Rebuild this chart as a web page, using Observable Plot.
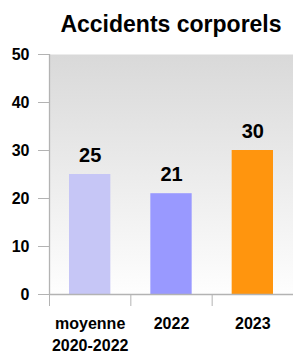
<!DOCTYPE html>
<html>
<head>
<meta charset="utf-8">
<script src="https://cdn.jsdelivr.net/npm/d3@7"></script>
<script src="https://cdn.jsdelivr.net/npm/@observablehq/plot@0.6"></script>
<style>
  body { margin: 0; background: #fff; }
  #title { box-sizing: border-box; height: 40px; padding-top: 13px; padding-left: 49px; width: 293px;
    text-align: center; font: bold 23px/22px "Liberation Sans", Arial, sans-serif; color: #000; white-space: nowrap; }
</style>
</head>
<body>
<svg width="0" height="0" style="position:absolute">
  <defs>
    <linearGradient id="bg" x1="0" y1="0" x2="0" y2="1">
      <stop offset="0" stop-color="#d9d9d9"/>
      <stop offset="1" stop-color="#fefefe"/>
    </linearGradient>
  </defs>
</svg>
<div id="title">Accidents corporels</div>
<div id="chart"></div>
<script>
const categories = ["moyenne\n2020-2022", "2022", "2023"];
const values = [25, 21, 30];
const colors = ["#c6c6f6", "#9999ff", "#ff950e"];
const yTicks = [0, 10, 20, 30, 40, 50];

const data = categories.map((c, i) => ({i, category: c, value: values[i], color: colors[i]}));
const gray = "#b3b3b3";

const chart = Plot.plot({
  width: 293,
  height: 312,
  marginTop: 14,
  marginLeft: 49,
  marginRight: 0,
  marginBottom: 58,
  style: {fontFamily: "'Liberation Sans', Arial, sans-serif", fontSize: "16px", fontWeight: "bold", color: "#000", background: "transparent"},
  x: {domain: [0, categories.length], axis: null},
  y: {domain: [0, 50], axis: null},
  marks: [
    Plot.frame({fill: "url(#bg)", stroke: "none"}),
    Plot.rectY(data, {x1: d => d.i, x2: d => d.i + 1, y1: 0, y2: "value", fill: "color", insetLeft: 20, insetRight: 20}),
    Plot.text(data, {x: d => d.i + 0.5, y: "value", text: d => String(d.value), dy: -19, fontSize: 20, fontWeight: "bold", fill: "#000"}),
    Plot.ruleX([0], {stroke: gray, strokeWidth: 1.3}),
    Plot.ruleY([0], {stroke: gray, strokeWidth: 1.3}),
    Plot.axisY({ticks: yTicks, label: null, tickSize: 11, tickPadding: 9, stroke: gray, fill: "#000", fontSize: 16, fontWeight: "bold"}),
    Plot.axisX({ticks: d3.range(categories.length + 1), label: null, tickSize: 12, tickFormat: () => "", stroke: gray}),
    Plot.axisX({ticks: categories.map((c, i) => i + 0.5), label: null, tickSize: 0, tickPadding: 20, lineHeight: 1.32,
      tickFormat: v => categories[Math.floor(v)], fill: "#000", fontSize: 16, fontWeight: "bold"})
  ]
});
document.getElementById("chart").appendChild(chart);
</script>
</body>
</html>
